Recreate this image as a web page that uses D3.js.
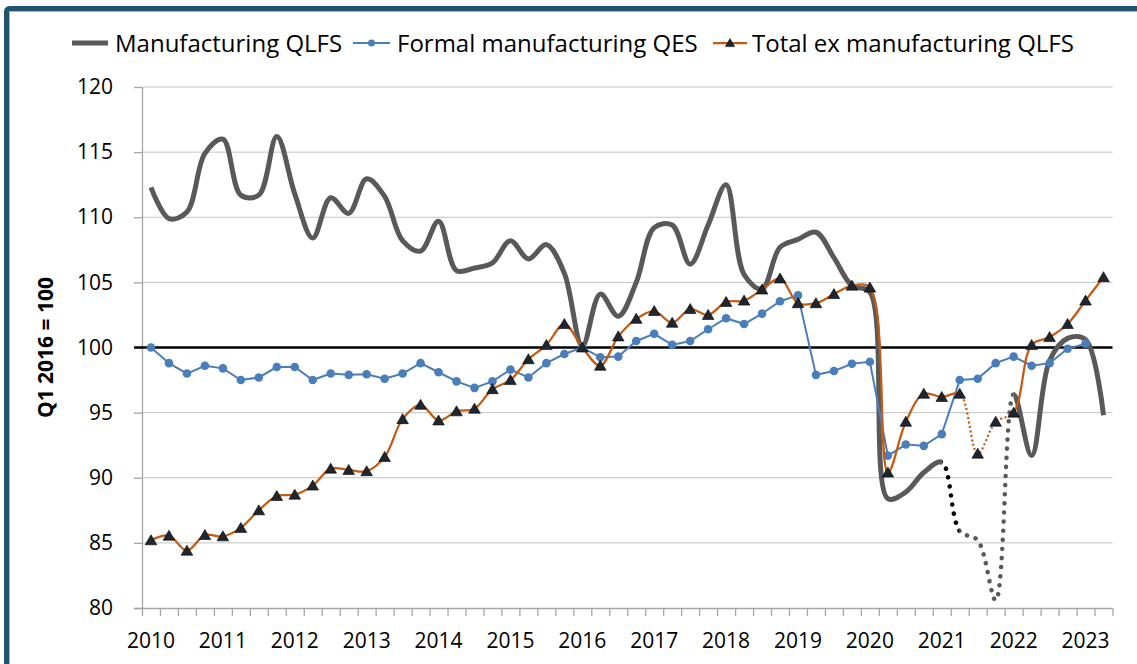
<!DOCTYPE html>
<html>
<head>
<meta charset="utf-8">
<script src="https://cdn.jsdelivr.net/npm/d3@7"></script>
<style>
  html, body { margin: 0; padding: 0; background: #fff; }
  svg { display: block; }
  text { font-family: "Open Sans", "Noto Sans", sans-serif; fill: #000; }
</style>
</head>
<body>
<svg id="chart" width="1137" height="664"></svg>
<script>
// ---------------- DATA ----------------
const yearLabels = ["2010","2011","2012","2013","2014","2015","2016","2017","2018","2019","2020","2021","2022","2023"];
const quarterNames = ["Q1","Q2","Q3","Q4"];
const categories = [];
yearLabels.forEach(y => quarterNames.forEach(q => categories.push(y + " " + q)));
categories.length = 54; // 2010 Q1 .. 2023 Q2

const seriesNames = ["Manufacturing QLFS", "Formal manufacturing QES", "Total ex manufacturing QLFS"];

const manufacturingQLFS = [
  112.3, 109.9, 110.4, 114.9, 116.0, 111.7, 111.7, 116.2, 111.8, 108.4,
  111.5, 110.3, 112.95, 111.6, 108.2, 107.4, 109.7, 105.9, 106.1, 106.5,
  108.2, 106.8, 107.9, 105.7, 100.1, 104.1, 102.4, 105.0, 109.2, 109.4,
  106.4, 109.4, 112.5, 105.6, 104.5, 107.7, 108.3, 108.85, 106.9, 104.75,
  104.25, 88.4, 88.9, 90.4, 91.2, 85.9, 85.2, 80.6, 96.4, 91.7,
  99.0, 100.7, 100.6, 94.8
];

const formalManufacturingQES = [
  100.0, 98.8, 98.0, 98.6, 98.4, 97.5, 97.7, 98.5, 98.5, 97.5,
  98.0, 97.9, 97.95, 97.6, 98.0, 98.8, 98.1, 97.4, 96.9, 97.4,
  98.3, 97.7, 98.8, 99.5, 100.0, 99.25, 99.3, 100.5, 101.05, 100.2,
  100.5, 101.4, 102.25, 101.8, 102.6, 103.55, 104.0, 97.9, 98.2, 98.75,
  98.9, 91.7, 92.55, 92.45, 93.35, 97.5, 97.6, 98.8, 99.3, 98.6,
  98.8, 99.9, 100.3
];

const totalExManufacturingQLFS = [
  85.2, 85.55, 84.4, 85.6, 85.5, 86.15, 87.5, 88.6, 88.7, 89.4,
  90.7, 90.6, 90.5, 91.6, 94.5, 95.6, 94.4, 95.1, 95.3, 96.8,
  97.5, 99.1, 100.2, 101.8, 100.0, 98.6, 100.85, 102.2, 102.8, 101.9,
  102.95, 102.5, 103.5, 103.6, 104.45, 105.3, 103.4, 103.4, 104.1, 104.75,
  104.6, 90.4, 94.3, 96.45, 96.2, 96.45, 91.85, 94.3, 95.0, 100.2,
  100.8, 101.8, 103.6, 105.4
];

const yTickValues = [80, 85, 90, 95, 100, 105, 110, 115, 120];
const baseValue = 100;
const yAxisTitle = "Q1 2016 = 100";
// segments of the QLFS series drawn dotted (indices, estimated periods)
const mfgBlackDotted = [44, 45];
const mfgGreyDotted = [45, 48];
const totalDotted = [45, 48];

// ---------------- LAYOUT ----------------
const svg = d3.select("#chart");
const plot = { left: 142, right: 1112.5, top: 87, bottom: 608 };
const C = {
  grey: "#595959", blue: "#4a7ebb", orange: "#c55a11",
  tri: "#1f2630", grid: "#c3c3c3", axis: "#a6a6a6", frame: "#1f5370"
};

// frame
svg.append("rect").attr("x", 6.5).attr("y", 8.5).attr("width", 1200).attr("height", 800)
  .attr("rx", 3).attr("fill", "none").attr("stroke", C.frame).attr("stroke-width", 5);
svg.append("rect").attr("x", 9.5).attr("y", 11.5).attr("width", 1200).attr("height", 800)
  .attr("fill", "none").attr("stroke", "#a9b2b8").attr("stroke-width", 1);

const x = d3.scaleBand().domain(d3.range(categories.length)).range([plot.left, plot.right]);
const cx = i => x(i) + x.bandwidth() / 2;
const xb = d3.scaleLinear().domain([0, categories.length]).range([plot.left, plot.right]);
const y = d3.scaleLinear().domain([80, 120]).range([plot.bottom, plot.top]);

const defs = svg.append("defs");
function clipRect(id, x0, x1) {
  defs.append("clipPath").attr("id", id).append("rect")
    .attr("x", x0).attr("y", plot.top - 10).attr("width", x1 - x0).attr("height", plot.bottom - plot.top + 10);
}
defs.append("clipPath").attr("id", "plotClip").append("rect")
  .attr("x", plot.left - 10).attr("y", plot.top - 10)
  .attr("width", plot.right - plot.left + 20).attr("height", plot.bottom - plot.top + 10);
clipRect("mfgSolidA", 0, cx(mfgBlackDotted[0]));
clipRect("mfgSolidB", cx(mfgGreyDotted[1]), 1137);
clipRect("mfgBlack", cx(mfgBlackDotted[0]), cx(mfgBlackDotted[1]));
clipRect("mfgGrey", cx(mfgGreyDotted[0]), cx(mfgGreyDotted[1]));
clipRect("totSolidA", 0, cx(totalDotted[0]));
clipRect("totSolidB", cx(totalDotted[1]), 1137);
clipRect("totDot", cx(totalDotted[0]), cx(totalDotted[1]));

// gridlines
svg.append("g").selectAll("line").data(yTickValues.filter(v => v !== 80 && v !== baseValue)).join("line")
  .attr("x1", plot.left).attr("x2", plot.right)
  .attr("y1", d => y(d)).attr("y2", d => y(d))
  .attr("stroke", C.grid).attr("stroke-width", 1);

// y axis
const yAxis = svg.append("g").attr("transform", `translate(${plot.left},0)`)
  .call(d3.axisLeft(y).tickValues(yTickValues).tickSize(8).tickPadding(21).tickSizeOuter(0));
yAxis.select(".domain").attr("stroke", C.axis).attr("stroke-width", 1.3);
yAxis.selectAll(".tick line").attr("stroke", C.axis).attr("stroke-width", 1.3);
yAxis.selectAll(".tick text").attr("font-size", 21).attr("font-family", "Open Sans").attr("fill", "#000");

// x axis
const xAxis = svg.append("g").attr("transform", `translate(0,${plot.bottom})`)
  .call(d3.axisBottom(xb).tickValues(d3.range(categories.length + 1)).tickSize(8).tickFormat(""));
xAxis.select(".domain").attr("stroke", C.axis).attr("stroke-width", 1.3).attr("d", `M${plot.left - 8},0.5H${plot.right}`);
xAxis.selectAll(".tick line").attr("stroke", C.axis).attr("stroke-width", 1.3);
svg.append("g").selectAll("text").data(yearLabels).join("text")
  .attr("x", (d, i) => cx(i * 4)).attr("y", plot.bottom + 40)
  .attr("text-anchor", "middle").attr("font-size", 21).text(d => d);

// base line (100)
svg.append("line").attr("x1", plot.left - 8).attr("x2", plot.right)
  .attr("y1", y(baseValue)).attr("y2", y(baseValue))
  .attr("stroke", "#000").attr("stroke-width", 2.5);

// y title
svg.append("text").attr("transform", `translate(53,${y(baseValue)}) rotate(-90)`)
  .attr("text-anchor", "middle").attr("font-size", 21).attr("font-weight", "bold").text(yAxisTitle);

// series
const smooth = d3.line().x((d, i) => cx(i)).y(d => y(d)).curve(d3.curveCatmullRom.alpha(0.5));
const straight = d3.line().x((d, i) => cx(i)).y(d => y(d));
const gPlot = svg.append("g").attr("clip-path", "url(#plotClip)");

function seg(clip, dataArr, gen, attrs) {
  const p = gPlot.append("g").attr("clip-path", `url(#${clip})`).append("path")
    .attr("d", gen(dataArr)).attr("fill", "none");
  Object.entries(attrs).forEach(([k, v]) => p.attr(k, v));
}
// manufacturing QLFS
seg("mfgSolidA", manufacturingQLFS, smooth, { stroke: C.grey, "stroke-width": 5, "stroke-linejoin": "round" });
seg("mfgSolidB", manufacturingQLFS, smooth, { stroke: C.grey, "stroke-width": 5, "stroke-linejoin": "round" });
seg("mfgBlack", manufacturingQLFS, smooth, { stroke: "#000", "stroke-width": 4.5, "stroke-linecap": "round", "stroke-dasharray": "0.1 9" });
seg("mfgGrey", manufacturingQLFS, smooth, { stroke: C.grey, "stroke-width": 4.5, "stroke-linecap": "round", "stroke-dasharray": "0.1 9" });

// formal QES
gPlot.append("path").attr("d", straight(formalManufacturingQES)).attr("fill", "none")
  .attr("stroke", C.blue).attr("stroke-width", 2);
gPlot.append("g").selectAll("circle").data(formalManufacturingQES).join("circle")
  .attr("cx", (d, i) => cx(i)).attr("cy", d => y(d)).attr("r", 4.3).attr("fill", C.blue);

// total ex manufacturing
seg("totSolidA", totalExManufacturingQLFS, smooth, { stroke: C.orange, "stroke-width": 2.25 });
seg("totSolidB", totalExManufacturingQLFS, smooth, { stroke: C.orange, "stroke-width": 2.25 });
seg("totDot", totalExManufacturingQLFS, smooth, { stroke: C.orange, "stroke-width": 2.25, "stroke-dasharray": "2 2.5" });
const triPath = s => `M0,${-s * 0.55}L${s * 0.58},${s * 0.45}L${-s * 0.58},${s * 0.45}Z`;
gPlot.append("g").selectAll("path").data(totalExManufacturingQLFS).join("path")
  .attr("transform", (d, i) => `translate(${cx(i)},${y(d)})`)
  .attr("d", triPath(10)).attr("fill", C.tri).attr("stroke", "#000").attr("stroke-width", 0.6);

// legend
const legY = 43;
const leg = svg.append("g");
leg.append("line").attr("x1", 72).attr("x2", 108).attr("y1", legY).attr("y2", legY)
  .attr("stroke", C.grey).attr("stroke-width", 5);
leg.append("text").attr("x", 115).attr("y", legY + 8.5).attr("font-size", 24).text(seriesNames[0]);
leg.append("line").attr("x1", 353).attr("x2", 390).attr("y1", legY).attr("y2", legY)
  .attr("stroke", C.blue).attr("stroke-width", 2);
leg.append("circle").attr("cx", 371.5).attr("cy", legY).attr("r", 3.5).attr("fill", C.blue);
leg.append("text").attr("x", 397).attr("y", legY + 8.5).attr("font-size", 24).text(seriesNames[1]);
leg.append("line").attr("x1", 713).attr("x2", 747).attr("y1", legY).attr("y2", legY)
  .attr("stroke", C.orange).attr("stroke-width", 2.25);
leg.append("path").attr("transform", `translate(730,${legY})`).attr("d", triPath(8))
  .attr("fill", C.tri).attr("stroke", "#000").attr("stroke-width", 0.5);
leg.append("text").attr("x", 752).attr("y", legY + 8.5).attr("font-size", 24).text(seriesNames[2]);
</script>
</body>
</html>
